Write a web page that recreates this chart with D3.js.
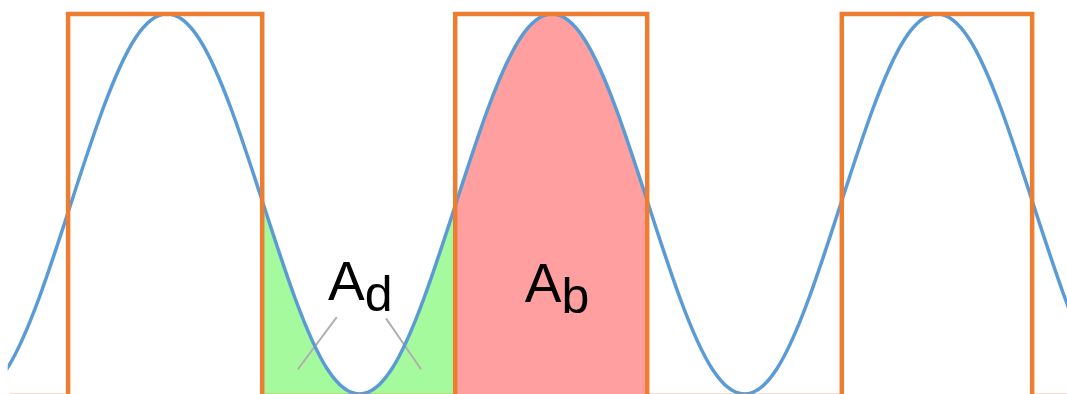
<!DOCTYPE html>
<html>
<head>
<meta charset="utf-8">
<script src="https://cdn.jsdelivr.net/npm/d3@7"></script>
<style>
  body { margin: 0; background: #fff; }
  svg { display: block; }
</style>
</head>
<body>
<script>
// Dimensions
const width = 1067;
const height = 394;

// Sine wave samples (phase in degrees, value)
const sinePhase = [-270, -240, -210, -180, -150, -120, -90, -60, -30,
  0, 30, 60, 90, 120, 150, 180, 210, 240, 270, 300, 330,
  360, 390, 420, 450, 480, 510, 540, 570, 600, 630, 660, 690,
  720, 750, 780, 810, 840, 870, 900];
const sineValue = [0, -0.5, -0.87, -1, -0.87, -0.5, 0, 0.5, 0.87,
  1, 0.87, 0.5, 0, -0.5, -0.87, -1, -0.87, -0.5, 0, 0.5, 0.87,
  1, 0.87, 0.5, 0, -0.5, -0.87, -1, -0.87, -0.5, 0, 0.5, 0.87,
  1, 0.87, 0.5, 0, -0.5, -0.87, -1];
const sineStart = -149;

// Square wave edges (phase) and levels
const squarePhase = [-147, -92.5, 89, 269.5, 449, 631, 809, 845];
const squareValue = [-1.01, 1, -1.01, 1, -1.01, 1, -1.01, -1.01];

// Shaded areas
const areas = [
  { name: "d", from: 89, to: 269.5, color: "#a5fa9d" },
  { name: "b", from: 269.5, to: 449, color: "#ff9f9f" }
];

// Labels and leader lines
const labels = [
  { main: "A", sub: "d", phase: 150.5, value: -0.505 },
  { main: "A", sub: "b", phase: 334.5, value: -0.516 }
];
const leaders = [
  [[158.7, -0.595], [122.3, -0.87]],
  [[204.8, -0.602], [237.5, -0.87]]
];

// Scales
const x = d3.scaleLinear()
  .domain([-156.2, 841.6])
  .range([0, width]);
const y = d3.scaleLinear()
  .domain([-1, 1])
  .range([394, 14]);

const sine = sinePhase.map((p, i) => [p, sineValue[i]]);
const square = squarePhase.map((p, i) => [p, squareValue[i]]);

const svg = d3.select("body")
  .append("svg")
  .attr("width", width)
  .attr("height", height);

const defs = svg.append("defs");

// Clip for the visible part of the sine line
defs.append("clipPath")
  .attr("id", "clip-sine")
  .append("rect")
  .attr("x", x(sineStart))
  .attr("y", 0)
  .attr("width", width - x(sineStart))
  .attr("height", height);

// Areas under the curve, clipped to each interval
const area = d3.area()
  .x(d => x(d[0]))
  .y0(height)
  .y1(d => y(d[1]))
  .curve(d3.curveNatural);

areas.forEach(a => {
  defs.append("clipPath")
    .attr("id", "clip-" + a.name)
    .append("rect")
    .attr("x", x(a.from))
    .attr("y", 0)
    .attr("width", x(a.to) - x(a.from))
    .attr("height", height);

  svg.append("path")
    .datum(sine)
    .attr("clip-path", `url(#clip-${a.name})`)
    .attr("fill", a.color)
    .attr("d", area);
});

// Leader lines
svg.selectAll(".leader")
  .data(leaders)
  .enter().append("line")
  .attr("class", "leader")
  .attr("x1", d => x(d[0][0]))
  .attr("y1", d => y(d[0][1]))
  .attr("x2", d => x(d[1][0]))
  .attr("y2", d => y(d[1][1]))
  .attr("stroke", "#b0b0b0")
  .attr("stroke-width", 2);

// Sine line
svg.append("path")
  .datum(sine)
  .attr("clip-path", "url(#clip-sine)")
  .attr("fill", "none")
  .attr("stroke", "#5b9bd5")
  .attr("stroke-width", 3.5)
  .attr("d", d3.line()
    .x(d => x(d[0]))
    .y(d => y(d[1]))
    .curve(d3.curveNatural));

// Square wave
svg.append("path")
  .datum(square)
  .attr("fill", "none")
  .attr("stroke", "#ed7d31")
  .attr("stroke-width", 4.5)
  .attr("d", d3.line()
    .x(d => x(d[0]))
    .y(d => y(d[1]))
    .curve(d3.curveStepAfter));

// Labels
const txt = svg.selectAll(".label")
  .data(labels)
  .enter().append("text")
  .attr("class", "label")
  .attr("x", d => x(d.phase))
  .attr("y", d => y(d.value))
  .attr("font-family", "'Liberation Sans', Arial, sans-serif")
  .attr("font-size", 55)
  .attr("fill", "#000");

txt.append("tspan").text(d => d.main);
txt.append("tspan")
  .attr("font-size", 50)
  .attr("dy", 11)
  .text(d => d.sub);
</script>
</body>
</html>
